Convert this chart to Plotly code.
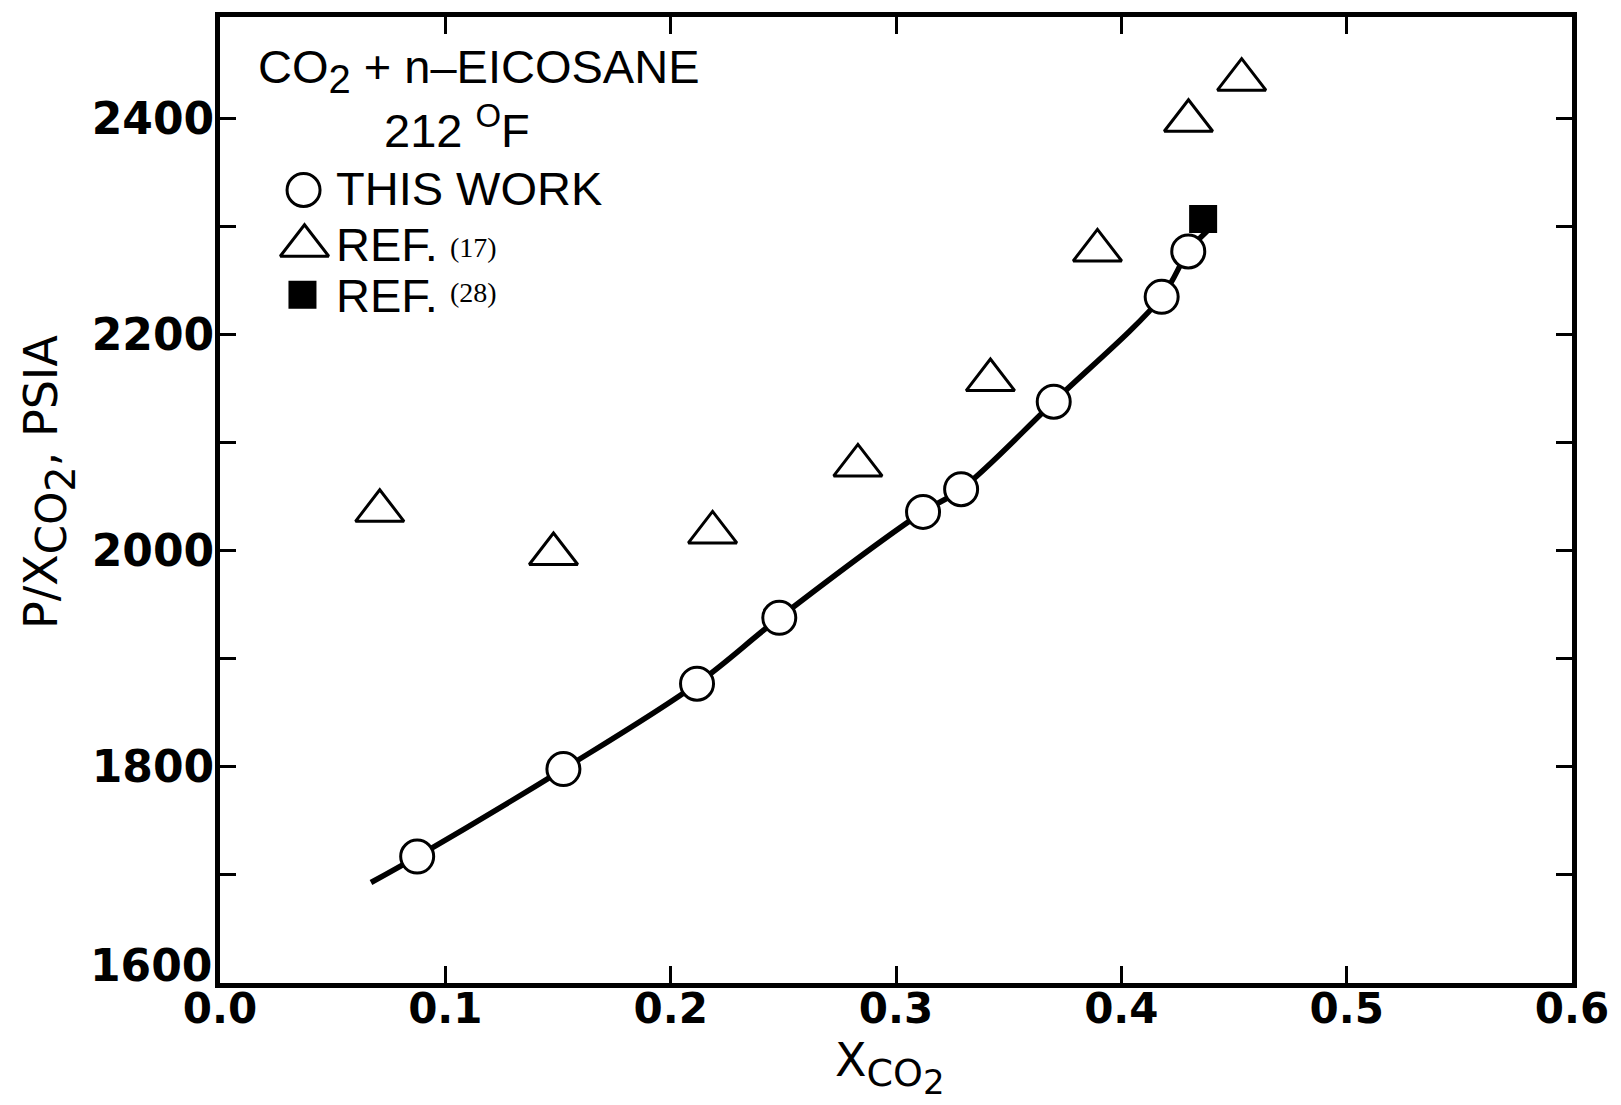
import plotly.graph_objects as go

# CO2 + n-eicosane at 212 F: P / x_CO2 plotted against liquid mole fraction x_CO2

# this work (open circles)
this_work_x = [0.0875, 0.1524, 0.2117, 0.2482, 0.3120, 0.3289, 0.3700, 0.4179, 0.4297]
this_work_y = [1717, 1798, 1877, 1938, 2036, 2057, 2138, 2235, 2277]

# Ref. (17) (open triangles)
ref17_x = [0.0709, 0.1480, 0.2186, 0.2831, 0.3419, 0.3894, 0.4298, 0.4534]
ref17_y = [2037, 1997, 2017, 2079, 2158, 2278, 2398, 2436]

# Ref. (28) (filled square)
ref28_x = [0.4363]
ref28_y = [2307]

# smoothed curve drawn through this work
curve_x = [0.0670, 0.0875, 0.1524, 0.2117, 0.2482, 0.3120, 0.3289, 0.3700, 0.4179, 0.4297, 0.4381]
curve_y = [1693, 1717, 1798, 1877, 1938, 2036, 2057, 2138, 2235, 2277, 2296]

x_ticks = [0.0, 0.1, 0.2, 0.3, 0.4, 0.5, 0.6]
x_tick_labels = ["0.0", "0.1", "0.2", "0.3", "0.4", "0.5", "0.6"]
y_ticks = [1800, 2000, 2200, 2400]
y_tick_labels = ["1800", "2000", "2200", "2400"]
y_bottom_value = 1600
y_bottom_label = "1600"

# key entries: symbol and position on the overlaid 0..1 key axes
key_symbols = ["circle", "triangle-up", "square"]
key_x = [0.0618, 0.0625, 0.0610]
key_y = [0.8209, 0.7632, 0.7126]

BLACK = "#000000"
TICK_FAMILY = "DejaVu Sans"
TEXT_FAMILY = "Liberation Sans, Arial, sans-serif"
SERIF_FAMILY = "Liberation Serif, Times New Roman, serif"

fig = go.Figure()

fig.add_trace(go.Scatter(
    x=curve_x, y=curve_y, mode="lines",
    line=dict(color=BLACK, width=5.5, shape="spline", smoothing=1.0),
    showlegend=False, hoverinfo="skip",
))
fig.add_trace(go.Scatter(
    x=this_work_x, y=this_work_y, mode="markers", name="THIS WORK",
    marker=dict(symbol="circle", size=33, color="white", line=dict(color=BLACK, width=3)),
    showlegend=False,
))
fig.add_trace(go.Scatter(
    x=ref17_x, y=ref17_y, mode="markers", name="REF. (17)",
    marker=dict(symbol="triangle-up", size=42, color="white", line=dict(color=BLACK, width=3)),
    showlegend=False,
))
fig.add_trace(go.Scatter(
    x=ref28_x, y=ref28_y, mode="markers", name="REF. (28)",
    marker=dict(symbol="square", size=25, color=BLACK, line=dict(color=BLACK, width=3)),
    showlegend=False,
))

# symbols for the in-plot key, on an overlaid 0..1 axis pair
key_sizes = [33, 42, 25]
key_fill = ["white", "white", BLACK]
for sym, kx, ky, ks, kf in zip(key_symbols, key_x, key_y, key_sizes, key_fill):
    fig.add_trace(go.Scatter(
        x=[kx], y=[ky], xaxis="x2", yaxis="y2", mode="markers",
        marker=dict(symbol=sym, size=ks, color=kf, line=dict(color=BLACK, width=3)),
        showlegend=False, hoverinfo="skip",
    ))

axis_common = dict(
    showline=True, linecolor=BLACK, linewidth=5, mirror="ticks",
    ticks="inside", tickcolor=BLACK, tickwidth=2.5,
    showgrid=False, zeroline=False,
)

x_tick_font = dict(family=TICK_FAMILY, size=42, color=BLACK, weight="bold")
y_tick_font = dict(family=TICK_FAMILY, size=44, color=BLACK, weight="bold")

fig.update_layout(
    width=1621, height=1105,
    margin=dict(l=220, r=41, t=14, b=122),
    paper_bgcolor="white", plot_bgcolor="white",
    xaxis=dict(range=[0, 0.6], tickvals=x_ticks, ticktext=x_tick_labels,
               ticklen=17, ticklabelstandoff=-15, tickfont=x_tick_font, **axis_common),
    yaxis=dict(range=[1600, 2494], tickvals=y_ticks, ticktext=y_tick_labels,
               ticklen=16, ticklabelstandoff=-8, tickfont=y_tick_font,
               minor=dict(ticks="inside", dtick=100, tick0=1600, ticklen=16,
                          tickwidth=2.5, tickcolor=BLACK, showgrid=False),
               **axis_common),
    xaxis2=dict(overlaying="x", range=[0, 1], visible=False),
    yaxis2=dict(overlaying="y", range=[0, 1], visible=False),
)

label_font = dict(family=TEXT_FAMILY, size=47, color=BLACK)
ref_no_font = dict(family=SERIF_FAMILY, size=28, color=BLACK)
title_font = dict(family="DejaVu Sans", size=46, color=BLACK)

annotations = [
    # the lowest y label sits raised above its tick, clear of the x labels
    dict(text=y_bottom_label, x=0, xref="paper", y=y_bottom_value, yref="y",
         xanchor="right", yanchor="bottom", xshift=-6, yshift=-10, font=y_tick_font),
    dict(text="CO<sub><span style='font-size:40px'>2</span></sub> + n–EICOSANE",
         x=0.0265, y=0.945, xanchor="left", yanchor="middle", font=label_font),
    dict(text="212 <sup>O</sup>F", x=0.1750, y=0.886, xanchor="center", yanchor="middle",
         font=label_font),
    dict(text="THIS WORK", x=0.0846, y=0.8225, xanchor="left", yanchor="middle", font=label_font),
    dict(text="REF.", x=0.0846, y=0.765, xanchor="left", yanchor="middle", font=label_font),
    dict(text="(17)", x=0.1684, y=0.7616, xanchor="left", yanchor="middle", font=ref_no_font),
    dict(text="REF.", x=0.0846, y=0.712, xanchor="left", yanchor="middle", font=label_font),
    dict(text="(28)", x=0.1684, y=0.7152, xanchor="left", yanchor="middle", font=ref_no_font),
    # axis titles
    dict(text="P/X<sub><span style='font-size:42px'>CO<sub><span style='font-size:40px'>2</span></sub></span></sub>, PSIA",
         x=-0.127, y=0.519, textangle=-90,
         xanchor="center", yanchor="middle", font=title_font),
    dict(text="X<sub><span style='font-size:38px'>CO<sub><span style='font-size:34px'>2</span></sub></span></sub>",
         x=0.4956, y=-0.087, xanchor="center", yanchor="middle", font=title_font),
]
for a in annotations:
    a.setdefault("xref", "paper")
    a.setdefault("yref", "paper")
    a.update(showarrow=False)
fig.update_layout(annotations=annotations)

fig.write_html("out.html")
